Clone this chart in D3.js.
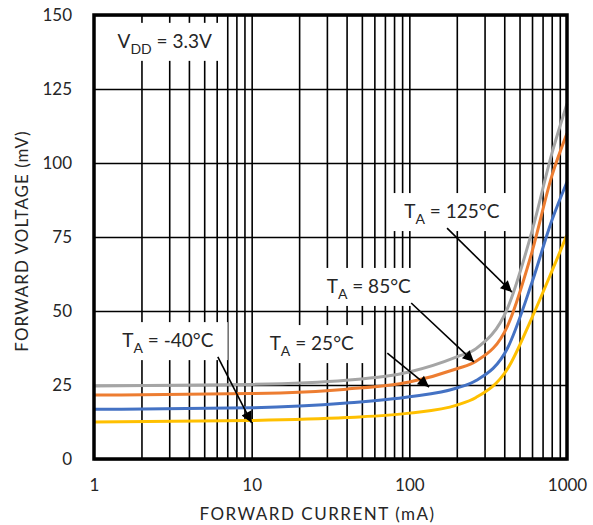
<!DOCTYPE html>
<html>
<head>
<meta charset="utf-8">
<script src="https://cdn.jsdelivr.net/npm/d3@7"></script>
<style>
  body { margin: 0; background: #fff; }
  text { font-family: Lato, "Open Sans", sans-serif; fill: #262626; }
</style>
</head>
<body>
<svg></svg>
<script>
// chart size
var width = 593;
var height = 525;
var margin = {top: 15, right: 26, bottom: 66, left: 94};

// forward current (mA), shared by all series
var current = [1, 10, 40, 100, 200, 265, 420, 600, 800, 1000];

// forward voltage (mV) per temperature
var vT125 = [24.7, 25.2, 26.6, 29.4, 34.5, 37.3, 51, 77, 103, 120];
var vT85 = [21.6, 22.1, 23.6, 26, 30.5, 33, 45, 70, 95.5, 110];
var vT25 = [16.8, 17.3, 18.9, 21, 24, 26.5, 37.5, 59.7, 80.5, 93.6];
var vTm40 = [12.5, 13, 14, 15.5, 18.2, 20.8, 30.5, 47.8, 63.3, 75.7];

var seriesColors = ["#a5a5a5", "#ed7d31", "#4472c4", "#ffc000"];

// tick labels
var yTicks = [0, 25, 50, 75, 100, 125, 150];
var xTicks = [1, 10, 100, 1000];
var xGrid = [2, 3, 4, 5, 6, 7, 8, 9, 10, 20, 30, 40, 50, 60, 70, 80, 90, 100, 200, 300, 400, 500, 600, 700, 800, 900];

// annotation labels (text anchor in data units) and their arrows
var labelText = ["V", "T", "T", "T", "T"];
var labelSub = ["DD", "A", "A", "A", "A"];
var labelRest = [" = 3.3V", " = 125°C", " = 85°C", " = 25°C", " = -40°C"];
var labelAt = [[1.41, 138.9], [92.9, 81.4], [29.9, 56.1], [13.0, 36.8], [1.51, 37.8]];
var arrowFrom = [[173.5, 78], [102.8, 52.7], [72.5, 35.8], [6.1, 34.5]];
var arrowTo = [[447, 56.4], [257, 32.8], [133.5, 24.3], [10, 12.2]];

var svg = d3.select("svg").attr("width", width).attr("height", height);

var pw = width - margin.left - margin.right;
var ph = height - margin.top - margin.bottom;

var xScale = d3.scaleLog().domain([1, 1000]).range([0, pw]);
var yScale = d3.scaleLinear().domain([0, 150]).range([ph, 0]);

var g = svg.append("g").attr("transform", "translate(" + margin.left + "," + margin.top + ")");

// grid lines
g.append("g").attr("class", "grid")
  .call(d3.axisLeft(yScale).tickValues(yTicks).tickSize(-pw).tickFormat(""))
  .call(s => s.select(".domain").remove())
  .selectAll("line").attr("stroke", "#000").attr("stroke-width", 1.6);

g.append("g").attr("class", "grid")
  .attr("transform", "translate(0," + ph + ")")
  .call(d3.axisBottom(xScale).tickValues(xGrid).tickSize(-ph).tickFormat(""))
  .call(s => s.select(".domain").remove())
  .selectAll("line").attr("stroke", "#000").attr("stroke-width", 1.6);

// curves
var allSeries = [vT125, vT85, vT25, vTm40];
var line = d3.line()
  .x((d, i) => xScale(current[i]))
  .y(d => yScale(d))
  .curve(d3.curveMonotoneX);

g.selectAll(".curve").data(allSeries).enter().append("path")
  .attr("class", "curve")
  .attr("d", line)
  .attr("fill", "none")
  .attr("stroke", (d, i) => seriesColors[i])
  .attr("stroke-width", 3);

// frame
g.append("rect")
  .attr("width", pw).attr("height", ph)
  .attr("fill", "none").attr("stroke", "#000").attr("stroke-width", 3.5);

// axes labels
var yAxis = g.append("g")
  .call(d3.axisLeft(yScale).tickValues(yTicks).tickSize(0).tickPadding(22));
yAxis.select(".domain").remove();
yAxis.selectAll("text").style("font-size", "17px").style("font-family", "Lato, sans-serif").attr("fill", "#262626");

var xAxis = g.append("g")
  .attr("transform", "translate(0," + ph + ")")
  .call(d3.axisBottom(xScale).tickValues(xTicks).tickFormat(d3.format("d")).tickSize(0).tickPadding(20));
xAxis.select(".domain").remove();
xAxis.selectAll("text").style("font-size", "17px").style("font-family", "Lato, sans-serif").attr("fill", "#262626");

svg.append("text")
  .attr("x", margin.left + pw / 2 - 13)
  .attr("y", 520)
  .attr("text-anchor", "middle")
  .style("font-size", "17px")
  .style("letter-spacing", "1.5px")
  .text("FORWARD CURRENT (mA)");

svg.append("text")
  .attr("transform", "translate(28," + (margin.top + ph / 2 + 4) + ") rotate(-90)")
  .attr("text-anchor", "middle")
  .style("font-size", "17px")
  .style("letter-spacing", "1px")
  .text("FORWARD VOLTAGE (mV)");

// arrow head
svg.append("defs").append("marker")
  .attr("id", "head")
  .attr("viewBox", "0 0 10 10")
  .attr("refX", 10).attr("refY", 5)
  .attr("markerWidth", 9).attr("markerHeight", 7)
  .attr("markerUnits", "strokeWidth")
  .attr("orient", "auto")
  .append("path").attr("d", "M0,0L10,5L0,10Z").attr("fill", "#000");

// labels with white boxes
labelText.forEach(function(t, i) {
  var lg = g.append("g");
  var box = lg.append("rect").attr("fill", "#fff");
  var txt = lg.append("text")
    .attr("x", xScale(labelAt[i][0]))
    .attr("y", yScale(labelAt[i][1]))
    .style("font-size", "19px");
  txt.append("tspan").text(t);
  txt.append("tspan").attr("dy", 6).style("font-size", "14px").text(labelSub[i]);
  txt.append("tspan").attr("dy", -6).text(labelRest[i]);
  var bb = txt.node().getBBox();
  box.attr("x", bb.x - 12).attr("y", bb.y - 6)
    .attr("width", bb.width + 26).attr("height", bb.height + 10);
});

// arrows
arrowFrom.forEach(function(a, i) {
  g.append("line")
    .attr("x1", xScale(a[0])).attr("y1", yScale(a[1]))
    .attr("x2", xScale(arrowTo[i][0])).attr("y2", yScale(arrowTo[i][1]))
    .attr("stroke", "#000").attr("stroke-width", 1.6)
    .attr("marker-end", "url(#head)");
});
</script>
</body>
</html>
